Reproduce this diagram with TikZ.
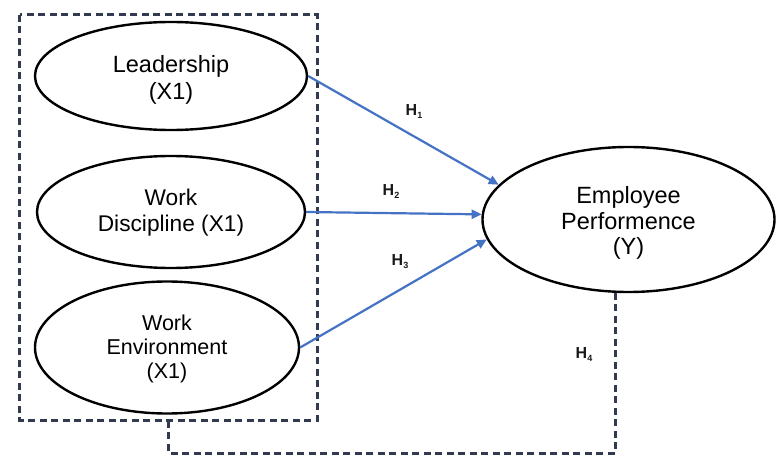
\documentclass[tikz,border=0pt]{standalone}
\usepackage{fontspec}
\setmainfont{Liberation Sans}
\usetikzlibrary{arrows.meta,shapes.geometric,calc}
\definecolor{boxcol}{RGB}{50,58,80}
\definecolor{arrcol}{RGB}{68,114,196}
\begin{document}
\begin{tikzpicture}[x=1pt,y=-1pt,
  var/.style={ellipse,draw=black,line width=2.4pt,inner sep=0pt,fill=white},
  vtext/.style={align=center,inner sep=0pt},
  grp/.style={draw=boxcol,line width=3pt,dash pattern=on 7pt off 4.5pt},
  hyp/.style={draw=arrcol,line width=2.2pt,-{Triangle[length=10pt,width=9pt]}},
  hlab/.style={text=black!90,inner sep=0pt}
]
\useasboundingbox (0,0) rectangle (776,457);
\node[draw=none,minimum width=297pt,minimum height=405pt,inner sep=0pt] (box) at (168.5,217.5) {};
\draw[grp] (box.north west) rectangle (box.south east);
\node[var,minimum width=272pt,minimum height=108pt] (L) at (171,76) {};
\node[vtext,font=\fontsize{23.5}{27}\selectfont] (Lt) at (171,80) {Leadership\\(X1)};
\node[var,minimum width=268pt,minimum height=112pt] (D) at (171,212) {};
\node[vtext,font=\fontsize{22.7}{26}\selectfont] (Dt) at (171,213) {Work\\Discipline (X1)};
\node[var,minimum width=264pt,minimum height=132pt] (E) at (167,347.5) {};
\node[vtext,font=\fontsize{21.5}{24}\selectfont] (Et) at (167,349) {Work\\Environment\\(X1)};
\node[var,minimum width=292pt,minimum height=145pt] (Y) at (628.5,219.5) {};
\node[vtext,font=\fontsize{23.5}{25.5}\selectfont] (Yt) at (628.5,223) {Employee\\Performence\\(Y)};
\draw[hyp] (L.east) -- (Y.165);
\draw[hyp] (D.east) -- (Y.178);
\draw[hyp] (E.east) -- (Y.188.5);
\node[hlab] (h1) at (414,111) {\fontsize{16}{18}\selectfont\bfseries H\raisebox{-3pt}{\fontsize{9}{9}\selectfont 1}};
\node[hlab] (h2) at (391,191) {\fontsize{16}{18}\selectfont\bfseries H\raisebox{-3pt}{\fontsize{9}{9}\selectfont 2}};
\node[hlab] (h3) at (400,262) {\fontsize{16}{18}\selectfont\bfseries H\raisebox{-3pt}{\fontsize{9}{9}\selectfont 3}};
\node[hlab] (h4) at (584,354) {\fontsize{16}{18}\selectfont\bfseries H\raisebox{-3pt}{\fontsize{9}{9}\selectfont 4}};
\coordinate (low) at (0,453);
\draw[grp] (Y.260) |- (box.south |- low) -- (box.south);
\end{tikzpicture}
\end{document}
